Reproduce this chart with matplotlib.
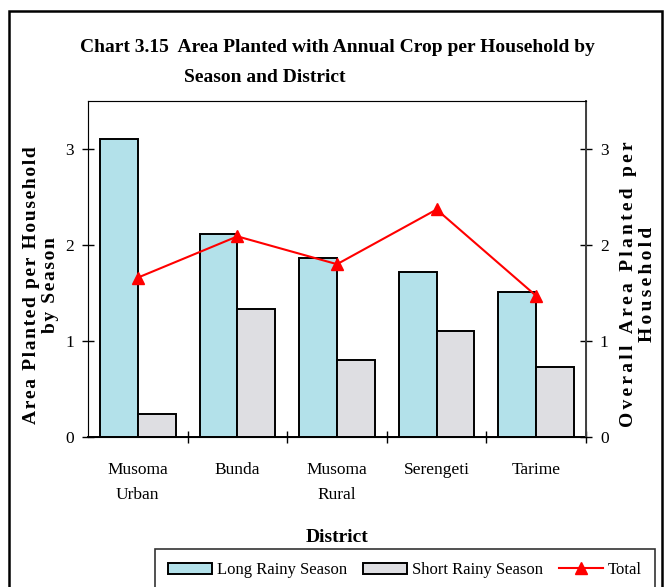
import matplotlib
matplotlib.use('Agg')
import matplotlib.pyplot as plt
from matplotlib.patches import Rectangle
from matplotlib.lines import Line2D
import numpy as np

# Données : superficie par ménage selon la saison et le district
districts = ['Musoma\nUrban', 'Bunda', 'Musoma\nRural', 'Serengeti', 'Tarime']
long_rainy = [3.10, 2.11, 1.86, 1.72, 1.51]
short_rainy = [0.24, 1.33, 0.80, 1.10, 0.73]
total = [1.66, 2.09, 1.80, 2.37, 1.47]
yticks = [0, 1, 2, 3]

plt.rcParams['font.family'] = ['Liberation Serif', 'DejaVu Serif']

fig = plt.figure(figsize=(6.65, 5.87), dpi=100)
W, H = 665.0, 587.0


def espacer(txt, n=1):
    # lettres légèrement espacées
    sep = '\u200a' * n
    return '\n'.join(sep.join(ligne) for ligne in txt.split('\n'))


# cadre extérieur
fig.add_artist(Rectangle((9 / W, -0.05), (662 - 9) / W, 1.05 - 11 / H,
                         transform=fig.transFigure, fill=False,
                         edgecolor='black', linewidth=1.8))

ax = fig.add_axes([88 / W, 1 - 437 / H, (586 - 88) / W, (437 - 101) / H])
x = np.arange(len(districts))
bw = 0.38
ax.bar(x - bw / 2, long_rainy, bw, color='#b3e1ea', edgecolor='black',
       linewidth=1.4, label='Long Rainy Season', zorder=2)
ax.bar(x + bw / 2, short_rainy, bw, color='#dedee2', edgecolor='black',
       linewidth=1.4, label='Short Rainy Season', zorder=2)

ax.set_xlim(-0.5, len(districts) - 0.5)
ax.set_ylim(0, 3.5)
ax.set_yticks(yticks)
ax.set_yticklabels([str(v) for v in yticks], fontsize=12.5)
ax.set_xticks(np.arange(len(districts)) + 0.5)
ax.set_xticklabels([])
ax.set_xticks(x, minor=True)
ax.set_xticklabels(districts, minor=True, fontsize=12.5, linespacing=1.75)
ax.tick_params(axis='x', which='major', direction='inout', length=8, width=1)
ax.tick_params(axis='x', which='minor', length=0, pad=18)
ax.tick_params(axis='y', direction='inout', length=8, width=1, pad=6)
for s in ['top', 'right']:
    ax.spines[s].set_color('#808080')
ax.spines['left'].set_color('#808080')
ax.spines['bottom'].set_color('black')
ax.spines['bottom'].set_linewidth(1.4)

# axe secondaire : total
ax2 = ax.twinx()
ax2.plot(x, total, color='red', marker='^', markersize=9, linewidth=1.5,
         label='Total', zorder=3)
ax2.set_ylim(0, 3.5)
ax2.set_yticks(yticks)
ax2.set_yticklabels([str(v) for v in yticks], fontsize=12.5)
ax2.tick_params(axis='y', direction='inout', length=8, width=1, pad=6)
ax2.spines['right'].set_color('#404040')
ax2.spines['right'].set_linewidth(1.4)

# titres
fig.text(80 / W, 1 - 47 / H, 'Chart 3.15  Area Planted with Annual Crop per Household by',
         fontsize=14, fontweight='bold', ha='left', va='center')
fig.text(184 / W, 1 - 77 / H, 'Season and District',
         fontsize=14, fontweight='bold', ha='left', va='center')
fig.text(41 / W, 1 - 285 / H, espacer('Area Planted per Household\nby Season'),
         fontsize=14, fontweight='bold', rotation=90, ha='center',
         va='center', linespacing=1.15)
fig.text(638 / W, 1 - 284 / H, espacer('Overall Area Planted per\nHousehold', 2),
         fontsize=14, fontweight='bold', rotation=90, ha='center',
         va='center', linespacing=1.15)
fig.text(337 / W, 1 - 537 / H, 'District', fontsize=14, fontweight='bold',
         ha='center', va='center')

# légende
handles = [Rectangle((0, 0), 1, 1, facecolor='#b3e1ea', edgecolor='black', linewidth=1.4),
           Rectangle((0, 0), 1, 1, facecolor='#dedee2', edgecolor='black', linewidth=1.4),
           Line2D([], [], color='red', marker='^', markersize=9, linewidth=1.5)]
leg = fig.legend(handles, ['Long Rainy Season', 'Short Rainy Season', 'Total'],
                 loc='upper left', bbox_to_anchor=(155 / W, 1 - 549 / H),
                 borderaxespad=0, ncol=3, fontsize=12, frameon=True,
                 fancybox=False, edgecolor='black', borderpad=0.8,
                 columnspacing=1.0, handlelength=2.6, handletextpad=0.3)
leg.get_frame().set_linewidth(1.2)

fig.savefig('out.png', dpi=100)
